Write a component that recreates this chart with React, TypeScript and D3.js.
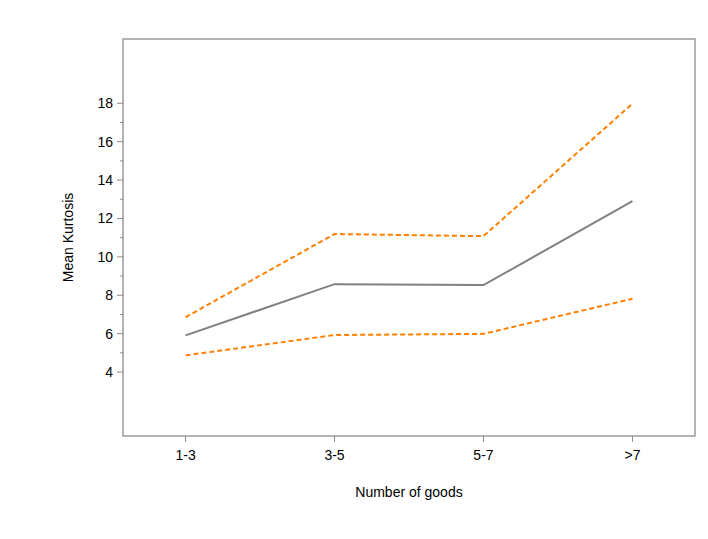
import React from 'react';
import { scalePoint, scaleLinear, line } from 'd3';

const categories = ['1-3', '3-5', '5-7', '>7'];
const meanValues = [5.91, 8.58, 8.53, 12.9];
const upperValues = [6.86, 11.19, 11.08, 17.98];
const lowerValues = [4.87, 5.93, 5.99, 7.82];
const majorTicks = [4, 6, 8, 10, 12, 14, 16, 18];
const minorTicks = [5, 7, 9, 11, 13, 15, 17];

const width = 708;
const height = 539;
const left = 123;
const right = 695;
const top = 39;
const bottom = 436;

const App = () => {
    const x = scalePoint<string>().domain(categories).range([left, right]).padding(0.42);
    const y = scaleLinear().domain([0.67, 21.35]).range([bottom, top]);
    const mk = line<number>().x((d, i) => x(categories[i]) as number).y(d => y(d));
    const font = 'Arial, "Liberation Sans", sans-serif';

    return (
        <svg width={width} height={height} style={{ position: 'absolute', left: 0, top: 0 }}>
            <rect x={0} y={0} width={width} height={height} fill="white" />
            <rect x={left} y={top} width={right - left} height={bottom - top} fill="none" stroke="#8c8c8c" strokeWidth={1.3} />
            {majorTicks.map(t => (
                <g key={'m' + t}>
                    <line x1={left - 6} x2={left} y1={y(t)} y2={y(t)} stroke="#8c8c8c" strokeWidth={1} />
                    <text x={left - 10} y={y(t)} dy="0.35em" textAnchor="end" fontSize={14} fontFamily={font} fill="#000">{t}</text>
                </g>
            ))}
            {minorTicks.map(t => (
                <line key={'n' + t} x1={left - 3} x2={left} y1={y(t)} y2={y(t)} stroke="#8c8c8c" strokeWidth={1} />
            ))}
            {categories.map(c => (
                <g key={c}>
                    <line x1={x(c)} x2={x(c)} y1={bottom} y2={bottom + 6} stroke="#8c8c8c" strokeWidth={1} />
                    <text x={x(c)} y={bottom + 24} textAnchor="middle" fontSize={14} fontFamily={font} fill="#000">{c}</text>
                </g>
            ))}
            <path d={mk(upperValues) || ''} fill="none" stroke="#ff8000" strokeWidth={2} strokeDasharray="5,3" />
            <path d={mk(lowerValues) || ''} fill="none" stroke="#ff8000" strokeWidth={2} strokeDasharray="5,3" />
            <path d={mk(meanValues) || ''} fill="none" stroke="#808080" strokeWidth={2} />
            <text x={(left + right) / 2} y={497} textAnchor="middle" fontSize={14} fontFamily={font} fill="#000">Number of goods</text>
            <text transform={`translate(73, ${(top + bottom) / 2}) rotate(-90)`} textAnchor="middle" fontSize={14} fontFamily={font} fill="#000">Mean Kurtosis</text>
        </svg>
    );
};

export default App;
